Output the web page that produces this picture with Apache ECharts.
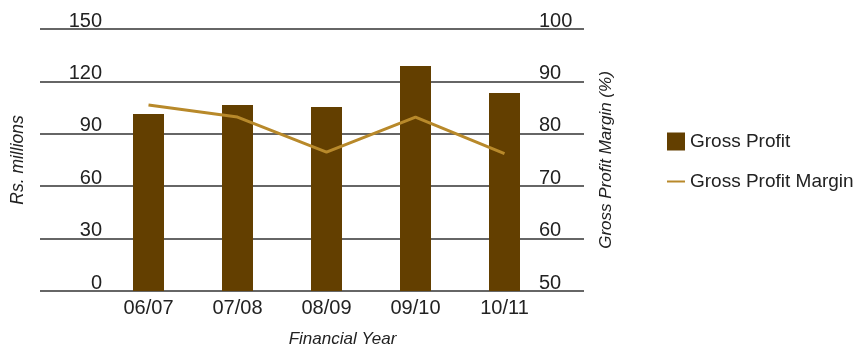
<!DOCTYPE html>
<html>
<head>
<meta charset="utf-8">
<script src="https://cdn.jsdelivr.net/npm/echarts@6/dist/echarts.min.js"></script>
<style>
  html, body { margin: 0; padding: 0; background: #fff; }
  #main { width: 861px; height: 350px; }
</style>
</head>
<body>
<div id="main"></div>
<script>
var years = ['06/07', '07/08', '08/09', '09/10', '10/11']
var grossProfit = [101.4, 106.5, 105.4, 128.8, 113.4]
var grossMargin = [85.5, 83.2, 76.5, 83.2, 76.2]
var profitTicks = [0, 150, 30]
var marginTicks = [50, 100, 10]

var font = 'Liberation Sans'
var txt = '#222'

var myChart = echarts.init(document.getElementById('main'))
var option = {
  animation: false,
  textStyle: { fontFamily: font },
  grid: [
    { left: 40, right: 277, top: 29, bottom: 59, outerBoundsMode: 'none' },
    { left: 104, right: 312, top: 29, bottom: 59, outerBoundsMode: 'none' }
  ],
  legend: {
    orient: 'vertical',
    left: 661,
    top: 127,
    itemWidth: 18,
    itemHeight: 18,
    itemGap: 21,
    textStyle: { fontSize: 19, color: txt, fontFamily: font },
    data: [
      { name: 'Gross Profit', icon: 'rect' },
      { name: 'Gross Profit Margin', itemStyle: { opacity: 0 } }
    ]
  },
  xAxis: [
    { gridIndex: 0, type: 'value', show: false, min: 0, max: 1 },
    {
      gridIndex: 1,
      type: 'category',
      data: years,
      axisLine: { show: false },
      axisTick: { show: false },
      axisLabel: { fontSize: 20, color: txt, margin: 7 },
      name: 'Financial Year',
      nameLocation: 'middle',
      nameGap: 40,
      nameTextStyle: { fontSize: 17, fontStyle: 'italic', color: txt, padding: [0, 0, 0, 32] }
    }
  ],
  yAxis: [
    {
      gridIndex: 0,
      type: 'value',
      position: 'left',
      min: profitTicks[0], max: profitTicks[1], interval: profitTicks[2],
      axisLine: { show: false },
      axisTick: { show: false },
      splitLine: { lineStyle: { color: '#333', width: 1.5 } },
      axisLabel: { inside: true, align: 'right', margin: 62, verticalAlign: 'bottom', lineHeight: 16, fontSize: 20, color: txt },
      name: 'Rs. millions',
      nameLocation: 'middle',
      nameRotate: 90,
      nameGap: 13,
      nameTextStyle: { fontSize: 17.5, fontStyle: 'italic', color: txt }
    },
    {
      gridIndex: 0,
      type: 'value',
      position: 'right',
      min: marginTicks[0], max: marginTicks[1], interval: marginTicks[2],
      axisLine: { show: false },
      axisTick: { show: false },
      splitLine: { show: false },
      axisLabel: { inside: true, align: 'left', margin: 45, verticalAlign: 'bottom', lineHeight: 16, fontSize: 20, color: txt },
      name: 'Gross Profit Margin (%)',
      nameLocation: 'middle',
      nameRotate: 90,
      nameGap: 14,
      nameTextStyle: { fontSize: 17, fontStyle: 'italic', color: txt }
    },
    { gridIndex: 1, type: 'value', show: false, min: profitTicks[0], max: profitTicks[1] },
    { gridIndex: 1, type: 'value', show: false, min: marginTicks[0], max: marginTicks[1] }
  ],
  series: [
    {
      name: 'Gross Profit',
      type: 'bar',
      xAxisIndex: 1,
      yAxisIndex: 2,
      barWidth: 31,
      itemStyle: { color: '#633f00' },
      data: grossProfit
    },
    {
      name: 'Gross Profit Margin',
      type: 'line',
      xAxisIndex: 1,
      yAxisIndex: 3,
      symbol: 'none',
      lineStyle: { color: '#b8892a', width: 3 },
      itemStyle: { color: '#b8892a' },
      data: grossMargin
    }
  ]
}
myChart.setOption(option)
</script>
</body>
</html>
